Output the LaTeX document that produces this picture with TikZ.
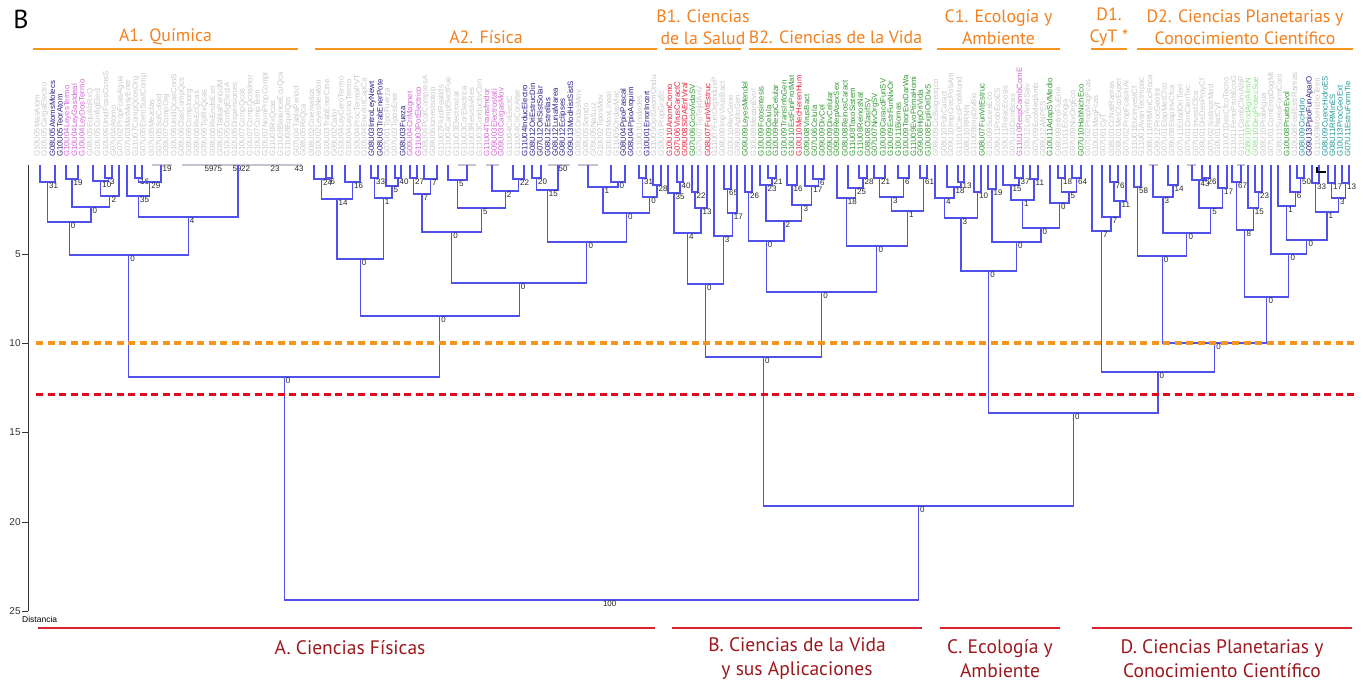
\documentclass[tikz,border=0pt]{standalone}
\usepackage{fontspec}
\usetikzlibrary{calc}
\newfontfamily\labfont{Liberation Sans}
\newfontfamily\hdfont{PT Sans}
\definecolor{dendroblue}{RGB}{80,80,235}
\definecolor{flatgray}{RGB}{195,195,210}
\definecolor{lcg}{RGB}{200,200,200}
\definecolor{lcn}{RGB}{40,30,130}
\definecolor{lcp}{RGB}{210,100,210}
\definecolor{lcr}{RGB}{230,30,60}
\definecolor{lcv}{RGB}{50,150,50}
\definecolor{lcl}{RGB}{140,225,140}
\definecolor{lct}{RGB}{30,150,150}
\definecolor{hdorange}{RGB}{243,128,30}
\definecolor{cutorange}{RGB}{247,148,30}
\definecolor{cutred}{RGB}{225,10,30}
\definecolor{grpred}{RGB}{215,35,45}
\definecolor{grptext}{RGB}{155,25,30}
\tikzset{
  dendro/.style={draw=dendroblue, line width=1.15pt},
  flatline/.style={draw=flatgray, line width=1.2pt},
  hlab/.style={anchor=north west, inner sep=0pt, xshift=1.5pt, yshift=-1pt, text=black!85, font=\labfont\fontsize{8}{8.5}\selectfont},
  leaflab/.style={anchor=west, rotate=90, inner sep=0pt, font=\labfont\fontsize{7.8}{8}\selectfont},
  hdtext/.style={align=center, text=hdorange, font=\hdfont\fontsize{17.8}{22}\selectfont},
  hdline/.style={draw=cutorange, line width=2.5pt},
  grplab/.style={align=center, text=grptext, font=\hdfont\fontsize{19.5}{24}\selectfont},
  grpline/.style={draw=grpred, line width=2.5pt},
  cutline/.style={line width=3.5pt, dash pattern=on 7pt off 4.5pt},
  ticklab/.style={anchor=east, inner sep=1pt, font=\labfont\fontsize{10}{11}\selectfont},
}
% merge: name, left, right, height, label
\newcommand\mrg[5]{%
  \path let \p1=(#2), \p2=(#3) in ({0.5*\x1+0.5*\x2},{-#4}) coordinate (#1);
  \draw[dendro] (#2) |- (#1) -| (#3);
  \node[hlab] (#1n) at (#1) {#5};
}
% flat cluster: name, x, left end, right end
\newcommand\flt[4]{%
  \coordinate (#1) at (#2,-165);
  \coordinate (#1a) at (#3,-165);
  \coordinate (#1b) at (#4,-165);
  \draw[flatline] (#1a) -- (#1b);
}

\begin{document}
\begin{tikzpicture}[x=1pt,y=1pt]
  \useasboundingbox (0,0) rectangle (1363,-683);

  \node[font=\hdfont\fontsize{26}{28}\selectfont, inner sep=0pt] (panel) at (21,-19) {B};

  % leaf labels
  \foreach \t/\c [count=\i from 0] in {G10U05MasAtom/g, G10U05CargaElectro/g, G08U05AtomsMolecs/n, G10U05TeorAtom/n, G10U04LeyesTermo/p, G10U04LeyGasIdeal/p, G10U04LeyDosTermo/p, G08U05EquilibRxQ/g, G10U05ConfigElect/g, G10U06UnidFcasConsS/g, G07U04Atomo/g, G07U02PropFcasAgua/g, G07U03MatMasyEner/g, G11U07CompQcosOrg/g, G07U05ElemSustComp/g, G07U05Mezclas/g, G07U05SolColoid/g, G09U07CompOrg/g, G10U06UnidQcasConS/g, G08U06ClasCompQcs/g, G09U06CompInorg/g, G09U06RxEcQcas/g, G09U06TipRxQcas/g, G08U06RxEndoExo/g, G08U05TablaPeriodM/g, G10U05ConfigElectA/g, G10U05Dispersiones/g, G10U07CompQcos/g, G10U07CompQcosInor/g, G10U07CompTerm/g, G10U07NomPropCompl/g, G11U08RxQcas/g, G11U08BalanceEcuQca/g, G11U08EquilQco/g, G07U04TablaPeriod/g, G08U05RxQca/g,
    G08U02Cinematica/g, G10U02LeyesNewton/g, G10U03TrabEnerCine/g, G09U02Calor/g, G10U04LeyCeroTermo/g, G10U04LeyUnoTermo/g, G10U04ProcTermoPVT/g, G10U04EnerIntCapCa/g, G08U03IntroLeyNewt/n, G08U03TrabEnerPote/n, G07U01TipoFuerza/g, G07U03TiposEner/g, G08U03Fueza/n, G09U04CriMagnet/p, G11U03PotElectrico/p, G08U04PcalCompresA/g, G09U06IonesIsotop/g, G11U02FluidRealIds/g, G11U04CampElectFue/g, G11U03Electrostat/g, G11U03CorElectrica/g, G11U03ResistivRes/g, G11U03ConductivCon/g, G11U04Transfmdor/p, G09U03Electrostati/p, G09U03CargasMov/p, G11U04CirElectC/g, G11U04CirCorAlter/g, G11U04InducElectro/n, G08U12OriEstrucDin/n, G07U12OriSistSolar/n, G08U12Estrellas/n, G08U12LunaMarea/n, G08U12Eclipses/n, G09U13ModHistSistS/n, G08U05OndasMov/g, G08U05Sonido/g, G09U05NatLuz/g, G10U02TiposMov/g, G10U03MovLineal/g, G11U05OndasMec/g, G08U04PpioPascal/n, G08U04PpioArquim/n, G11U01Unidades/g, G10U01ErrorIncert/n, G11U05OptGeomOndu/g,
    G10U01PropGrafic/g, G10U10AnomCromo/r, G07U06VirusCaractC/r, G09U08SIDAEnfViral/r, G07U06CicloVidaSV/v, G07U07TipTejidAnV/g, G08U07FunVitEstruc/r, G11U07FunOrgIndusP/g, G08U08ImpVirusBact/g, G10U10RevGene/g, G09U09AplInGen/g, G09U09LeyesMendel/v, G10U09MecanEvol/g, G10U09Fotosintesis/v, G10U09Celula/v, G10U09RespCelular/v, G10U09TransInfoGen/v, G10U10EstFunProtMat/v, G10U10MecHerenHum/r, G09U08VirusBact/v, G07U06Celula/v, G09U09DivCel/v, G09U09DivCelular/v, G09U09RepAsexSex/v, G08U08ReinosCaract/v, G11U08TaxoSistem/v, G11U08ReinosNat/v, G08U08ClasifSV/v, G07U07NivOrgSV/v, G10U09CaracdFunSV/v, G10U09EstrFunNivOr/v, G10U11Biomas/v, G10U09TeorEvoDarWa/v, G11U09EvoPrimaHomi/v, G09U08HipOriVida/v, G10U08ExpliOriDivS/v,
    G08U09CicBiogeoqco/g, G08U10PobCaract/g, G09U10ImpCrecPobAm/g, G11U10CreciPobMund/g, G08U10RRNN/g, G11U08ImpDivBio/g, G08U07FunVitEstruc/v, G10U09SucesEco/g, G09U11ProbEcoES/g, G10U11RelacEcosis/g, G07U10ComBcas/g, G11U10RespCambComE/p, G10U12LegAmbSalv/g, G07U09EcoMedAmb/g, G08U12ANPES/g, G10U11AdapSVMedio/v, G08U09IntroFluEne/g, G11U11Ecologia/g, G07U09NivOrgEco/g, G07U10HabNichEco/v,
    G07U02PropMagFcas/g, G10U01MagFcas/g, G07U01CyT/g, G08U01CcNatRamas/g, G08U01MetCfcoExper/g, G07U02PropFcasInAl/g, G11U01EticInvestCf/g, G11U01AvanTecImpac/g, G08U11RRMinCicRoca/g, G09U12ProcGeoInt/g, G07U01EtapMetCfco/g, G09U08EtapInvCfca/g, G07U11EdadOnTierr/g, G07U01ConCienTec/g, G07U01InvestCfca/g, G09U01DisDesProyCf/g, G07U02SistInstrMed/g, G10U01NatCyT/g, G11U01DesCfcoTecno/g, G11U11FenoProbEcoG/g, G11U11CambClimAlbP/g, G08U10ProdAgrAlimN/l, G08U10DegProtecSue/l, G08U10ProbAgua/g, G07U01ComEmpDogMt/g, G08U11SueloFormCom/g, G10U08PruebEvol/v, G10U08FosilEstrRamas/g, G08U09CicHidro/t, G09U13PpioFunAparO/n, G11U09MovHidroTerm/g, G08U09CuencHidroES/t, G08U11RRMinES/t, G10U13ProcGeoExt/t, G07U11EstruFormTie/t}
    \node[leaflab, text=lc\c] (lab\i) at ({37+7.62*\i},-157) {\t};

  % leaves
  \foreach \n/\x in {a1/40, a2/55, a3/66, a4/78, a5/93, a6/105, a7/112, a8/119, a9/127, a10/135, a11/142,
    b1/314, b2/326, b3/332, b4/345, b5/360, b6/371, b7/378, b8/386, b9/395, b10/401, b11/410, b12/417, b13/424, b14/437, b15/448, b18/513, b19/524, b20/532, b21/541, b24/611, b25/625, b26/639, b27/646, b28/653, b29/661,
    c1/668, c2/677, c3/683, c4/692, c5/698, c6/707, c7/714, c8/724, c9/731, c10/737,
    d1/745, d2/752, d3/760, d4/768, d5/776, d6/787, d7/797, d8/805, d9/813, d10/824, d11/837, d12/848, d13/859, d14/867, d15/874, d16/885, d17/898, d18/909, d19/920, d20/927,
    e1/935, e2/947, e3/958, e4/964, e5/974, e6/981, e7/988, e8/996, e9/1003, e10/1015, e11/1023, e12/1030, e13/1038, e14/1050, e15/1058, e16/1065, e17/1072, e18/1081,
    g1/1092, g2/1102, g3/1110, g4/1118, g5/1126,
    h1/1134, h2/1141, h4/1168, h5/1178, h7/1202, h8/1210, h9/1218, h10/1227, h11/1232, h13/1248, h14/1255, h15/1262, h16/1271, h17/1278, h18/1290, h19/1297, h20/1304, h21/1312, h22/1319, h23/1328, h24/1335, h25/1342, h26/1349}
    \coordinate (\n) at (\x,-165);

  \flt{a12}{161}{152}{172}
  \flt{a13}{238}{182}{302}
  \flt{b16}{467}{458}{476}
  \flt{b17}{492}{486}{499}
  \flt{b22}{558}{548}{570}
  \flt{b23}{588}{578}{598}
  \flt{h3}{1153}{1149}{1158}
  \flt{h6}{1192}{1187}{1196}
  \flt{h12}{1241}{1237}{1245}

  \foreach \v/\x [count=\i] in {19/161, 59/203, 75/211.5, 59/231, 22/239.5, 23/269, 43/293, 50/557}
    \node[hlab] (fz\i) at (\x,-164.5) {\v};

  % A
  \mrg{m1}{a1}{a2}{182}{31}
  \mrg{m2}{a3}{a4}{179}{19}
  \mrg{m3}{a6}{a7}{178}{3}
  \mrg{m4}{a5}{m3}{181}{10}
  \mrg{m5}{m4}{a8}{196}{2}
  \mrg{m6}{m2}{m5}{207}{0}
  \mrg{m7}{m1}{m6}{222}{0}
  \mrg{m8}{a10}{a11}{178}{16}
  \mrg{m9}{m8}{a12}{182}{29}
  \mrg{m10}{a9}{m9}{196}{35}
  \mrg{m11}{m10}{a13}{217}{4}
  \mrg{mA1}{m7}{m11}{255}{0}
  \mrg{n1}{b2}{b3}{178}{6}
  \mrg{n2}{b1}{n1}{179}{24}
  \mrg{n3}{b4}{b5}{182}{16}
  \mrg{n4}{n2}{n3}{199}{14}
  \mrg{n5}{b6}{b7}{178}{33}
  \mrg{n6}{b9}{b10}{178}{40}
  \mrg{n7}{b8}{n6}{186}{5}
  \mrg{n8}{n5}{n7}{198}{1}
  \mrg{n9}{n4}{n8}{259}{0}
  \mrg{n10}{b11}{b12}{178}{27}
  \mrg{n11}{b13}{b14}{179}{7}
  \mrg{n12}{n10}{n11}{194}{7}
  \mrg{n13}{b15}{b16}{180}{5}
  \mrg{n14}{b18}{b19}{179}{22}
  \mrg{n15}{b17}{n14}{191}{2}
  \mrg{n16}{n13}{n15}{208}{5}
  \mrg{n17}{n12}{n16}{232}{0}
  \mrg{n18}{b20}{b21}{178}{20}
  \mrg{n19}{n18}{b22}{190}{15}
  \mrg{n20}{b24}{b25}{182}{0}
  \mrg{n21}{b23}{n20}{187}{1}
  \mrg{n22}{b26}{b27}{178}{31}
  \mrg{n23}{b28}{b29}{185}{28}
  \mrg{n24}{n22}{n23}{197}{0}
  \mrg{n25}{n21}{n24}{213}{0}
  \mrg{n26}{n19}{n25}{242}{0}
  \mrg{n27}{n17}{n26}{283}{0}
  \mrg{mA2}{n9}{n27}{316}{0}
  \mrg{mA}{mA1}{mA2}{377}{0}

  % B
  \mrg{p1}{c2}{c3}{182}{40}
  \mrg{p2}{c1}{p1}{193}{35}
  \mrg{p3}{c4}{c5}{192}{22}
  \mrg{p4}{p3}{c6}{208}{13}
  \mrg{p5}{p2}{p4}{233}{4}
  \mrg{p6}{c8}{c9}{189}{65}
  \mrg{p7}{p6}{c10}{213}{17}
  \mrg{p8}{c7}{p7}{236}{3}
  \mrg{mB1}{p5}{p8}{284}{0}
  \mrg{q1}{d1}{d2}{192}{26}
  \mrg{q2}{d4}{d5}{178}{21}
  \mrg{q3}{d3}{q2}{185}{23}
  \mrg{q4}{d6}{d7}{185}{16}
  \mrg{q5}{d9}{d10}{179}{6}
  \mrg{q6}{d8}{q5}{186}{17}
  \mrg{q7}{q4}{q6}{205}{3}
  \mrg{q8}{q3}{q7}{221}{2}
  \mrg{q9}{q1}{q8}{241}{0}
  \mrg{q10}{d13}{d14}{178}{28}
  \mrg{q11}{d12}{q10}{188}{25}
  \mrg{q12}{d11}{q11}{198}{18}
  \mrg{q13}{d15}{d16}{178}{21}
  \mrg{q14}{d17}{d18}{178}{6}
  \mrg{q15}{q13}{q14}{197}{3}
  \mrg{q16}{d19}{d20}{178}{61}
  \mrg{q17}{q15}{q16}{211}{1}
  \mrg{q18}{q12}{q17}{246}{0}
  \mrg{mB2}{q9}{q18}{292}{0}
  \mrg{mB}{mB1}{mB2}{357}{0}

  % C
  \mrg{r1}{e3}{e4}{182}{13}
  \mrg{r2}{e2}{r1}{187}{18}
  \mrg{r3}{e1}{r2}{198}{4}
  \mrg{r4}{e5}{e6}{192}{10}
  \mrg{r5}{r3}{r4}{218}{3}
  \mrg{r6}{e7}{e8}{189}{19}
  \mrg{r7}{e10}{e11}{178}{37}
  \mrg{r8}{e9}{r7}{185}{15}
  \mrg{r9}{e12}{e13}{179}{11}
  \mrg{r10}{r8}{r9}{200}{1}
  \mrg{r11}{e15}{e16}{178}{18}
  \mrg{r12}{e17}{e18}{178}{64}
  \mrg{r13}{r11}{r12}{192}{5}
  \mrg{r14}{e14}{r13}{203}{0}
  \mrg{r15}{r10}{r14}{228}{0}
  \mrg{r16}{r6}{r15}{242}{0}
  \mrg{mC}{r5}{r16}{271}{0}

  % D
  \mrg{s1}{g3}{g4}{182}{76}
  \mrg{s2}{s1}{g5}{201}{11}
  \mrg{s3}{g2}{s2}{217}{7}
  \mrg{mD1}{g1}{s3}{231}{7}
  \mrg{t1}{h1}{h2}{187}{58}
  \mrg{t2}{h4}{h5}{185}{14}
  \mrg{t3}{h3}{t2}{197}{3}
  \mrg{t4}{h7}{h8}{178}{26}
  \mrg{t5}{h6}{t4}{180}{43}
  \mrg{t6}{h9}{h10}{188}{17}
  \mrg{t7}{t5}{t6}{208}{5}
  \mrg{t8}{t3}{t7}{233}{0}
  \mrg{t9}{t1}{t8}{256}{0}
  \mrg{t10}{h11}{h12}{182}{67}
  \mrg{t11}{h14}{h15}{192}{23}
  \mrg{t12}{h13}{t11}{208}{15}
  \mrg{t13}{t10}{t12}{230}{8}
  \mrg{t14}{h19}{h20}{178}{50}
  \mrg{t15}{h18}{t14}{192}{6}
  \mrg{t16}{h17}{t15}{206}{1}
  \mrg{t17}{h21}{h22}{183}{33}
  \mrg{t18}{h23}{h24}{183}{17}
  \mrg{t19}{h25}{h26}{183}{13}
  \mrg{t20}{t18}{t19}{198}{3}
  \mrg{t21}{t17}{t20}{212}{1}
  \mrg{t22}{t16}{t21}{240}{0}
  \mrg{t23}{h16}{t22}{254}{0}
  \mrg{t24}{t13}{t23}{297}{0}
  \mrg{mD2}{t9}{t24}{343}{0}
  \mrg{mD}{mD1}{mD2}{372}{0}

  \mrg{mCD}{mC}{mD}{413}{0}
  \mrg{mBCD}{mB}{mCD}{506}{0}
  \mrg{root}{mA}{mBCD}{600}{100}

  \coordinate (bk1) at (1317,-167);
  \coordinate (bk2) at (1326,-172);
  \draw[black, line width=1.5pt] (bk1) |- (bk2);

  % axis
  \coordinate (ax0) at (28,-165);
  \coordinate (ax25) at (28,-611);
  \draw[black!80, line width=0.8pt] (ax0) -- (ax25);
  \foreach \v in {5,10,15,20,25} {
    \coordinate (tk\v) at (28,{-164.7-17.86*\v});
    \draw[black!80, line width=0.8pt] (tk\v) -- ++(-6,0) node[ticklab] (tl\v) {\v};
  }
  \node[anchor=west, inner sep=0pt, font=\labfont\fontsize{8.5}{9}\selectfont] (dist) at (22,-619) {Distancia};

  % cut lines
  \coordinate (ca) at (36,-343);
  \coordinate (cb) at (1356,-343);
  \coordinate (cc) at (36,-394.5);
  \coordinate (cd) at (1356,-394.5);
  \draw[cutline, draw=cutorange] (ca) -- (cb);
  \draw[cutline, draw=cutred] (cc) -- (cd);

  % group headers
  \foreach \n/\xa/\xb/\ty/\txt in {hA1/33/298/37/{A1. Química}, hA2/315/657/37/{A2. Física}, hB1/665/741/27/{B1. Ciencias\\de la Salud}, hB2/749/922/37/{B2. Ciencias de la Vida}, hC1/937/1060/27/{C1. Ecología y\\Ambiente}, hD1/1091/1127/27/{D1.\\CyT *}, hD2/1137/1353/27/{D2. Ciencias Planetarias y\\Conocimiento Científico}} {
    \coordinate (\n a) at (\xa,-49);
    \coordinate (\n b) at (\xb,-49);
    \draw[hdline] (\n a) -- (\n b);
    \node[hdtext] (\n) at ({(\xa+\xb)/2},-\ty) {\txt};
  }

  % bottom groups
  \foreach \n/\xa/\xb/\tx/\ty/\txt in {gA/38/655/350/648/{A. Ciencias Físicas}, gB/672/922/797/659/{B. Ciencias de la Vida\\y sus Aplicaciones}, gC/940/1060/1000/659/{C. Ecología y\\Ambiente}, gD/1092/1352/1222/659/{D. Ciencias Planetarias y\\Conocimiento Científico}} {
    \coordinate (\n a) at (\xa,-628);
    \coordinate (\n b) at (\xb,-628);
    \draw[grpline] (\n a) -- (\n b);
    \node[grplab] (\n) at (\tx,-\ty) {\txt};
  }
\end{tikzpicture}
\end{document}
